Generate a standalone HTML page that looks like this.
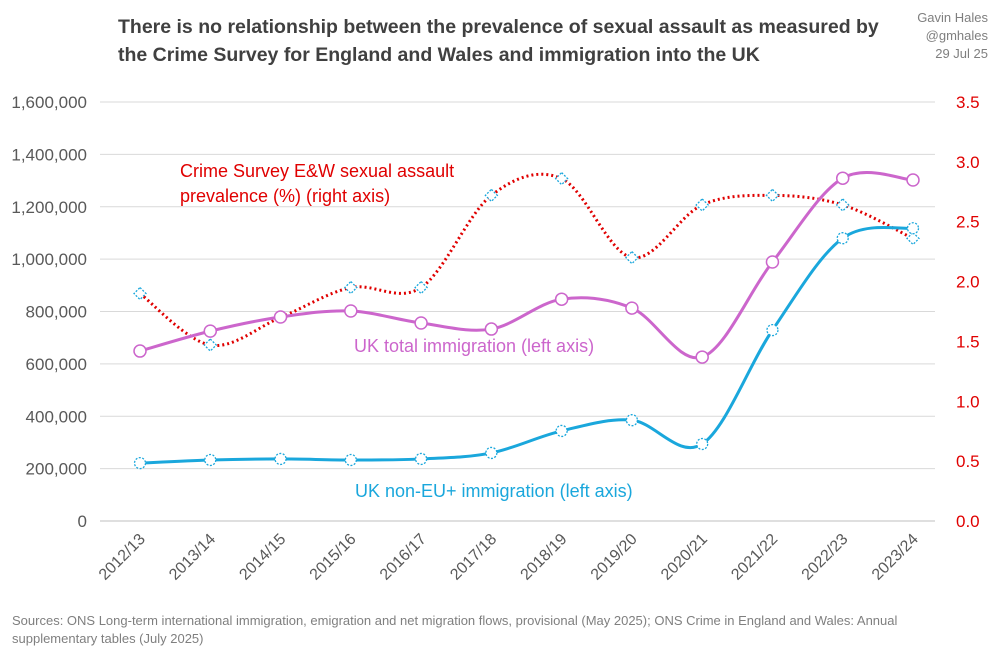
<!DOCTYPE html>
<html><head><meta charset="utf-8">
<style>
body{margin:0;background:#fff;font-family:"Liberation Sans",sans-serif;}
svg text{font-family:"Liberation Sans",sans-serif;}
</style></head>
<body>
<svg id="chart" width="1000" height="654" viewBox="0 0 1000 654">
<rect x="0" y="0" width="1000" height="654" fill="#fff"/>
<text x="118" y="33" font-size="19.5" font-weight="bold" fill="#404040">There is no relationship between the prevalence of sexual assault as measured by</text>
<text x="118" y="61" font-size="19.5" font-weight="bold" fill="#404040">the Crime Survey for England and Wales and immigration into the UK</text>
<text x="988" y="22" font-size="13" fill="#7f7f7f" text-anchor="end">Gavin Hales</text>
<text x="988" y="40" font-size="13" fill="#7f7f7f" text-anchor="end">@gmhales</text>
<text x="988" y="58" font-size="13" fill="#7f7f7f" text-anchor="end">29 Jul 25</text>
<g id="grid"></g>
<g id="series"></g>
<text x="180" y="177" font-size="18" fill="#e00000">Crime Survey E&amp;W sexual assault</text>
<text x="180" y="202" font-size="18" fill="#e00000">prevalence (%) (right axis)</text>
<text x="354" y="352" font-size="18" fill="#cc66cc">UK total immigration (left axis)</text>
<text x="355" y="497" font-size="18" fill="#1aa7dc">UK non-EU+ immigration (left axis)</text>
<text x="12" y="625" font-size="13" fill="#7f7f7f">Sources: ONS Long-term international immigration, emigration and net migration flows, provisional  (May 2025); ONS Crime in England and Wales: Annual</text>
<text x="12" y="643" font-size="13" fill="#7f7f7f">supplementary tables (July 2025)</text>
</svg>
<script>
const categories=["2012/13","2013/14","2014/15","2015/16","2016/17","2017/18","2018/19","2019/20","2020/21","2021/22","2022/23","2023/24"];
const totalImmigration=[649000,725000,779000,802000,756000,733000,847000,813000,626000,989000,1309000,1302000];
const nonEuImmigration=[221000,233000,237000,233000,237000,260000,344000,385000,294000,729000,1080000,1118000];
const sexualAssault=[1.90,1.47,1.70,1.95,1.95,2.72,2.86,2.20,2.64,2.72,2.64,2.36];
const leftTicks=[0,200000,400000,600000,800000,1000000,1200000,1400000,1600000];
const rightTicks=[0,0.5,1,1.5,2,2.5,3,3.5];

const NS="http://www.w3.org/2000/svg";
const x0=140,x1=913,yb=521,yt=102;
const xs=i=>x0+i*(x1-x0)/(categories.length-1);
const yL=v=>yb-(v/1600000)*(yb-yt);
const yR=v=>yb-(v/3.5)*(yb-yt);
function mk(tag,attrs,parent){const e=document.createElementNS(NS,tag);for(const k in attrs)e.setAttribute(k,attrs[k]);parent.appendChild(e);return e;}
const grid=document.getElementById('grid'),ser=document.getElementById('series');
leftTicks.forEach(v=>{
  const y=yL(v);
  const l=mk('line',{x1:100,x2:935,y1:y,y2:y,stroke:v===0?'#bfbfbf':'#d9d9d9','stroke-width':1},grid);
  
  
  const t=mk('text',{x:87,y:y+6,'font-size':17,fill:'#595959','text-anchor':'end'},grid);
  t.textContent=v.toLocaleString('en-GB');
  
  
});
rightTicks.forEach(v=>{
  const t=mk('text',{x:956,y:yR(v)+6,'font-size':17,fill:'#e00000'},grid);
  t.textContent=v.toFixed(1);
  
  
});
categories.forEach((c,i)=>{
  const x=xs(i);
  const t=mk('text',{x:x+6,y:540,'font-size':16,fill:'#595959','text-anchor':'end',transform:`rotate(-45 ${x+6} 540)`},grid);
  t.textContent=c;
  
  
});
function smooth(pts){
  let d=`M${pts[0][0]},${pts[0][1]}`;
  for(let i=0;i<pts.length-1;i++){
    const p0=pts[i-1]||pts[i],p1=pts[i],p2=pts[i+1],p3=pts[i+2]||p2;
    const c1=[p1[0]+(p2[0]-p0[0])/6,p1[1]+(p2[1]-p0[1])/6];
    const c2=[p2[0]-(p3[0]-p1[0])/6,p2[1]-(p3[1]-p1[1])/6];
    d+=` C${c1[0]},${c1[1]} ${c2[0]},${c2[1]} ${p2[0]},${p2[1]}`;
  }
  return d;
}
function series(vals,yf,color,dash,name,marker){
  const pts=vals.map((v,i)=>[xs(i),yf(v)]);
  const p=mk('path',{d:smooth(pts),fill:'none',stroke:color,'stroke-width':3,'stroke-dasharray':dash},ser);
  
  
  pts.forEach(pt=>{
    let m;
    if(marker==='circle'){m=mk('circle',{cx:pt[0],cy:pt[1],r:6,fill:'#fff',stroke:color,'stroke-width':1.5},ser);}
    else if(marker==='dcircle'){m=mk('circle',{cx:pt[0],cy:pt[1],r:5.5,fill:'#fff',stroke:'#1aa7dc','stroke-width':1.3,'stroke-dasharray':'2,1.5'},ser);}
    else {m=mk('path',{d:`M${pt[0]},${pt[1]-6}L${pt[0]+6},${pt[1]}L${pt[0]},${pt[1]+6}L${pt[0]-6},${pt[1]}Z`,fill:'#fff',stroke:'#1aa7dc','stroke-width':1.3,'stroke-dasharray':'2,1.5'},ser);}
    
    
  });
}
series(sexualAssault,yR,'#e00000','2,3','sexual-assault','diamond');
series(totalImmigration,yL,'#cc66cc','','total-immigration','circle');
series(nonEuImmigration,yL,'#1aa7dc','','non-eu-immigration','dcircle');
</script>
</body></html>
